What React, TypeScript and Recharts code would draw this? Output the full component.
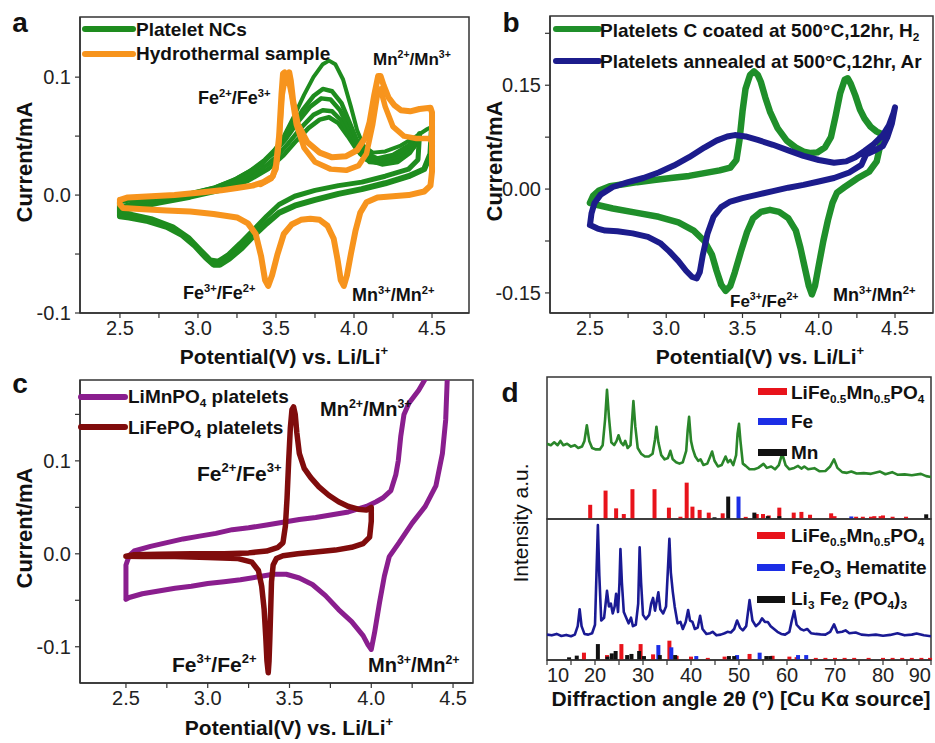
import React from 'react';
import { LineChart, Line, XAxis, YAxis, ReferenceArea, ReferenceLine } from 'recharts';

type Pt = [number, number];
const FONT = "'Liberation Sans', Arial, Helvetica, sans-serif";

// ---------------- Panel a ----------------
const aXTicks = [2.5, 2.75, 3, 3.25, 3.5, 3.75, 4, 4.25, 4.5];
const aYTicks = [-0.1, -0.05, 0, 0.05, 0.1];
const aXDomain: [number, number] = [2.244, 4.737];
const aYDomain: [number, number] = [-0.1, 0.151];

const aGreenAnodic1: Pt[] = [[2.5,-0.006],[2.6,-0.004],[2.75,-0.002],[2.9,0],[3.05,0.003],[3.18,0.008],[3.3,0.015],[3.4,0.025],[3.48,0.036],[3.55,0.05],[3.62,0.068],[3.68,0.085],[3.74,0.1],[3.8,0.111],[3.84,0.114],[3.88,0.111],[3.93,0.098],[3.98,0.075],[4.02,0.055],[4.06,0.042],[4.12,0.036],[4.2,0.037],[4.3,0.042],[4.4,0.05],[4.47,0.056],[4.5,0.058]];
const aGreenAnodic2: Pt[] = [[2.5,-0.01],[2.65,-0.005],[2.8,-0.002],[2.95,0.001],[3.1,0.006],[3.22,0.012],[3.33,0.02],[3.43,0.03],[3.52,0.042],[3.6,0.057],[3.67,0.072],[3.74,0.084],[3.8,0.09],[3.86,0.088],[3.92,0.078],[3.97,0.062],[4.02,0.046],[4.07,0.036],[4.15,0.031],[4.25,0.034],[4.35,0.042],[4.42,0.052]];
const aGreenAnodic3: Pt[] = [[2.5,-0.012],[2.7,-0.005],[2.9,0],[3.1,0.006],[3.25,0.014],[3.38,0.024],[3.48,0.035],[3.56,0.047],[3.64,0.062],[3.72,0.075],[3.79,0.082],[3.85,0.081],[3.91,0.072],[3.97,0.056],[4.03,0.04],[4.09,0.031],[4.18,0.029],[4.28,0.033],[4.38,0.043],[4.42,0.05]];
const aGreenAnodic4: Pt[] = [[2.5,-0.013],[2.7,-0.006],[2.9,-0.001],[3.1,0.004],[3.28,0.012],[3.4,0.021],[3.5,0.032],[3.58,0.044],[3.66,0.057],[3.74,0.068],[3.8,0.072],[3.86,0.071],[3.92,0.063],[3.98,0.049],[4.04,0.035],[4.1,0.028],[4.2,0.027],[4.3,0.031],[4.38,0.04],[4.41,0.046]];
const aGreenAnodic5: Pt[] = [[2.5,-0.014],[2.75,-0.007],[2.95,-0.002],[3.15,0.004],[3.32,0.012],[3.45,0.022],[3.55,0.034],[3.63,0.046],[3.71,0.057],[3.78,0.064],[3.84,0.066],[3.9,0.061],[3.96,0.05],[4.02,0.038],[4.08,0.03],[4.18,0.026],[4.28,0.028],[4.36,0.036],[4.4,0.044]];
const aGreenCathodic1: Pt[] = [[4.5,0.058],[4.49,0.035],[4.45,0.022],[4.35,0.016],[4.2,0.01],[4.05,0.005],[3.9,0.001],[3.75,-0.004],[3.62,-0.009],[3.52,-0.015],[3.44,-0.024],[3.36,-0.034],[3.28,-0.045],[3.2,-0.054],[3.14,-0.059],[3.1,-0.059],[3.05,-0.053],[2.98,-0.043],[2.9,-0.034],[2.8,-0.027],[2.68,-0.022],[2.56,-0.019],[2.5,-0.018],[2.5,-0.006]];
const aGreenCathodic2: Pt[] = [[4.42,0.052],[4.41,0.03],[4.35,0.022],[4.2,0.016],[4.05,0.011],[3.9,0.008],[3.75,0.004],[3.62,-0.001],[3.52,-0.008],[3.44,-0.018],[3.36,-0.029],[3.27,-0.041],[3.19,-0.051],[3.13,-0.056],[3.08,-0.055],[3.02,-0.047],[2.94,-0.036],[2.84,-0.027],[2.7,-0.02],[2.56,-0.016],[2.5,-0.015]];
const aOrangeCycle1: Pt[] = [[2.5,-0.004],[2.55,-0.002],[2.7,-0.001],[2.85,0],[3,0.002],[3.15,0.004],[3.25,0.006],[3.35,0.008],[3.42,0.011],[3.48,0.016],[3.5,0.025],[3.52,0.05],[3.535,0.085],[3.545,0.103],[3.555,0.104],[3.565,0.095],[3.575,0.1],[3.585,0.104],[3.595,0.097],[3.61,0.08],[3.64,0.06],[3.7,0.045],[3.78,0.036],[3.86,0.032],[3.95,0.033],[4.02,0.038],[4.07,0.048],[4.1,0.062],[4.13,0.085],[4.155,0.101],[4.17,0.101],[4.19,0.093],[4.22,0.083],[4.26,0.076],[4.3,0.072],[4.36,0.071],[4.42,0.073],[4.49,0.074],[4.5,0.07],[4.5,0.045],[4.5,0.02],[4.49,0.008],[4.45,0.003],[4.35,0],[4.25,-0.001],[4.15,-0.002],[4.08,-0.006],[4.04,-0.015],[4.01,-0.03],[3.98,-0.05],[3.955,-0.068],[3.935,-0.077],[3.915,-0.072],[3.895,-0.055],[3.87,-0.037],[3.83,-0.026],[3.78,-0.021],[3.72,-0.02],[3.66,-0.021],[3.6,-0.025],[3.55,-0.033],[3.51,-0.05],[3.475,-0.068],[3.45,-0.077],[3.43,-0.072],[3.405,-0.052],[3.37,-0.033],[3.32,-0.024],[3.25,-0.019],[3.1,-0.016],[2.95,-0.014],[2.8,-0.013],[2.65,-0.012],[2.52,-0.011],[2.5,-0.008],[2.5,-0.004]];
const aOrangeCycle2: Pt[] = [[3.4,0.009],[3.47,0.014],[3.5,0.022],[3.52,0.045],[3.54,0.085],[3.56,0.1],[3.58,0.098],[3.6,0.085],[3.63,0.06],[3.68,0.04],[3.75,0.028],[3.85,0.022],[3.95,0.021],[4.03,0.025],[4.08,0.035],[4.12,0.06],[4.15,0.085],[4.17,0.09],[4.2,0.075],[4.25,0.058],[4.32,0.05],[4.4,0.048],[4.48,0.048],[4.5,0.045]];

// ---------------- Panel b ----------------
const bXTicks = [2.5, 2.75, 3, 3.25, 3.5, 3.75, 4, 4.25, 4.5];
const bYTicks = [-0.15, -0.075, 0, 0.075, 0.15, 0.225];
const bXDomain: [number, number] = [2.238, 4.749];
const bYDomain: [number, number] = [-0.179, 0.25];

const bGreen: Pt[] = [[2.5,-0.02],[2.52,-0.01],[2.56,-0.002],[2.63,0.004],[2.72,0.007],[2.81,0.01],[2.92,0.013],[3.03,0.016],[3.15,0.019],[3.25,0.023],[3.35,0.027],[3.42,0.031],[3.46,0.042],[3.48,0.07],[3.5,0.112],[3.52,0.145],[3.55,0.165],[3.575,0.17],[3.6,0.165],[3.62,0.155],[3.65,0.132],[3.68,0.112],[3.73,0.088],[3.79,0.07],[3.85,0.06],[3.9,0.054],[3.95,0.052],[3.99,0.053],[4.04,0.06],[4.08,0.075],[4.11,0.105],[4.14,0.138],[4.17,0.158],[4.19,0.16],[4.21,0.152],[4.24,0.135],[4.27,0.115],[4.3,0.102],[4.34,0.09],[4.38,0.083],[4.41,0.08],[4.4,0.06],[4.38,0.04],[4.33,0.025],[4.25,0.015],[4.17,0.003],[4.12,-0.005],[4.09,-0.02],[4.06,-0.045],[4.03,-0.075],[4,-0.11],[3.975,-0.14],[3.955,-0.152],[3.935,-0.14],[3.91,-0.115],[3.88,-0.085],[3.85,-0.06],[3.8,-0.042],[3.74,-0.033],[3.68,-0.03],[3.62,-0.033],[3.57,-0.042],[3.53,-0.062],[3.49,-0.09],[3.45,-0.12],[3.42,-0.14],[3.39,-0.147],[3.36,-0.138],[3.33,-0.118],[3.3,-0.095],[3.25,-0.075],[3.18,-0.06],[3.08,-0.048],[2.95,-0.04],[2.8,-0.034],[2.65,-0.028],[2.55,-0.023],[2.5,-0.02]];
const bBlue: Pt[] = [[2.5,-0.052],[2.51,-0.035],[2.53,-0.02],[2.57,-0.008],[2.65,0.003],[2.75,0.01],[2.85,0.016],[2.95,0.024],[3.05,0.034],[3.15,0.046],[3.25,0.06],[3.33,0.07],[3.4,0.076],[3.45,0.078],[3.52,0.076],[3.6,0.071],[3.7,0.064],[3.8,0.056],[3.9,0.048],[4,0.042],[4.1,0.038],[4.18,0.04],[4.24,0.046],[4.3,0.055],[4.36,0.065],[4.42,0.078],[4.46,0.092],[4.49,0.11],[4.5,0.118],[4.48,0.095],[4.45,0.075],[4.42,0.062],[4.36,0.055],[4.31,0.05],[4.28,0.035],[4.2,0.024],[4.1,0.016],[4,0.011],[3.9,0.006],[3.8,0.002],[3.7,-0.003],[3.6,-0.008],[3.5,-0.013],[3.42,-0.018],[3.36,-0.026],[3.31,-0.04],[3.27,-0.065],[3.24,-0.095],[3.22,-0.12],[3.2,-0.129],[3.17,-0.127],[3.13,-0.118],[3.08,-0.104],[3.02,-0.09],[2.96,-0.078],[2.88,-0.069],[2.78,-0.064],[2.68,-0.061],[2.6,-0.06],[2.55,-0.057],[2.5,-0.052]];

// ---------------- Panel c ----------------
const cXTicks = [2.5, 2.75, 3, 3.25, 3.5, 3.75, 4, 4.25, 4.5];
const cYTicks = [-0.1, -0.05, 0, 0.05, 0.1, 0.15];
const cXDomain: [number, number] = [2.219, 4.622];
const cYDomain: [number, number] = [-0.139, 0.187];

const cPurple: Pt[] = [[2.5,-0.049],[2.5,-0.03],[2.5,-0.012],[2.52,-0.002],[2.55,0.003],[2.65,0.008],[2.75,0.012],[2.85,0.016],[2.95,0.019],[3.05,0.022],[3.15,0.026],[3.25,0.028],[3.36,0.031],[3.46,0.034],[3.56,0.037],[3.66,0.039],[3.76,0.042],[3.86,0.045],[3.97,0.051],[4.03,0.056],[4.07,0.06],[4.12,0.068],[4.15,0.085],[4.165,0.1],[4.18,0.126],[4.2,0.15],[4.23,0.162],[4.29,0.176],[4.33,0.188],[4.36,0.2],[4.4,0.3],[4.46,0.3],[4.465,0.19],[4.455,0.144],[4.435,0.108],[4.395,0.073],[4.33,0.051],[4.25,0.033],[4.17,0.012],[4.11,-0.003],[4.08,-0.024],[4.05,-0.053],[4.02,-0.085],[4,-0.103],[3.98,-0.098],[3.95,-0.088],[3.88,-0.073],[3.8,-0.06],[3.72,-0.045],[3.64,-0.033],[3.56,-0.026],[3.48,-0.022],[3.4,-0.022],[3.3,-0.025],[3.2,-0.028],[3.1,-0.03],[3,-0.032],[2.9,-0.035],[2.8,-0.037],[2.7,-0.04],[2.6,-0.043],[2.52,-0.047],[2.5,-0.049]];
const cDarkRed: Pt[] = [[2.5,-0.0025],[2.55,-0.001],[2.7,-0.0005],[2.9,0],[3.1,0],[3.25,0.001],[3.36,0.003],[3.43,0.007],[3.46,0.012],[3.475,0.03],[3.485,0.06],[3.495,0.1],[3.505,0.135],[3.515,0.155],[3.525,0.158],[3.535,0.15],[3.545,0.13],[3.56,0.108],[3.59,0.092],[3.63,0.082],[3.68,0.072],[3.74,0.063],[3.8,0.056],[3.86,0.051],[3.92,0.048],[3.97,0.047],[4,0.05],[4,0.035],[3.99,0.018],[3.95,0.011],[3.88,0.007],[3.78,0.004],[3.66,0.002],[3.55,0],[3.46,-0.002],[3.42,-0.005],[3.4,-0.012],[3.39,-0.03],[3.385,-0.06],[3.38,-0.09],[3.375,-0.115],[3.37,-0.128],[3.362,-0.115],[3.355,-0.09],[3.345,-0.06],[3.33,-0.035],[3.31,-0.018],[3.27,-0.009],[3.18,-0.005],[3,-0.004],[2.8,-0.003],[2.6,-0.003],[2.5,-0.0025]];

// ---------------- Panel d ----------------
const dXTicks = [10, 15, 20, 25, 30, 35, 40, 45, 50, 55, 60, 65, 70, 75, 80, 85, 90];
const dXDomain: [number, number] = [10, 90];
const dYDomain: [number, number] = [0, 100];

const dTopPattern: Pt[] = [[10,53],[10.8,52],[11.5,54],[12.2,52],[12.8,55],[13.4,52],[14.2,53],[15,51],[15.8,52],[16.5,50],[17.3,51],[17.8,55],[18.3,66],[18.8,55],[19.4,50],[20.2,49],[21,49],[21.6,52],[22.1,70],[22.5,91],[22.9,72],[23.4,54],[24,52],[24.5,55],[24.9,59],[25.4,54],[25.9,52],[26.3,55],[26.8,50],[27.4,52],[27.7,68],[28,83],[28.4,65],[28.9,50],[29.6,46],[30.4,44],[31.2,44],[32,46],[32.5,56],[32.8,65],[33.2,54],[33.8,45],[34.5,42],[35.2,43],[35.7,48],[36.2,42],[36.9,40],[37.6,39],[38.3,40],[39,48],[39.3,62],[39.6,72],[40,55],[40.4,49],[40.9,44],[41.5,41],[42,42],[42.6,38],[43.4,39],[44,44],[44.4,47.5],[44.9,41],[45.6,37],[46.4,38],[47.2,44],[47.7,40],[48.2,41.6],[48.8,38],[49.4,45],[49.7,60],[50,67],[50.3,55],[50.8,39],[51.4,37.4],[52.2,35],[53.2,35],[54,36],[55.1,38.8],[55.8,36],[56.7,37],[57.5,35],[58.3,38],[59,46],[59.7,38],[60.5,35],[61.5,36],[62.3,37.4],[63,35.5],[63.6,37],[64.4,35],[65.7,35.8],[66.8,33.6],[68,33.8],[69,37],[69.8,42],[70.5,36],[71.5,33],[72.5,32.5],[73.4,33.5],[74.5,32],[76,32.3],[77.5,31.8],[79.4,33.4],[80.5,31.5],[81.9,33],[83,31.2],[84.5,31.4],[86,30.8],[87.9,31.8],[89,30.2],[90,29.6]];
const dTopRedSticks: Pt[] = [[19,10],[22.2,20],[24.4,7.5],[26,3.5],[27.8,21],[32.4,21],[35.4,8],[37.8,1.6],[39.1,25.6],[40.3,8.7],[41.8,6.4],[43.7,4.5],[46.6,4],[51.4,1.5],[53.7,3.5],[55,3.5],[56.2,2.5],[58.4,8],[61.4,4.5],[63,5],[64.8,3],[69.2,4],[69.9,2],[74.4,1.6],[75.8,1.6],[77.5,1.6],[78.2,2],[79.5,2],[80,2.5],[82,1.6],[84.8,1.6]];
const dTopBlueSticks: Pt[] = [[49.9,15.8],[73.4,1.8]];
const dTopBlackSticks: Pt[] = [[44.9,1.2],[47.75,15.8],[53.2,4.5],[56,2],[58.4,2],[89,3.3]];

const dBottomPattern: Pt[] = [[10,18],[11,17.5],[12,18.5],[13,17],[14,17.8],[15,16.8],[15.8,18],[16.4,24],[16.8,36],[17.2,24],[17.8,18.5],[18.6,18],[19.4,19],[20,25],[20.3,60],[20.6,95.7],[20.9,60],[21.3,28],[21.9,30],[22.5,49],[22.9,38],[23.3,40],[23.7,33],[24.1,38],[24.4,47],[24.8,34],[25.1,55],[25.3,78.7],[25.6,55],[26,34],[26.5,30],[27,26],[27.5,30],[27.9,24],[28.5,25],[29,40],[29.3,80],[29.6,55],[30,32],[30.6,29],[31.3,32],[31.7,40],[32.1,44],[32.5,35],[33.2,48],[33.6,36],[34.2,33],[34.8,38],[35.2,65],[35.5,86],[35.8,62],[36.2,48.5],[36.6,38],[37.2,26],[37.8,27],[38.3,22],[38.9,27],[39.4,35.5],[39.8,28],[40.3,27],[40.8,22],[41.4,23],[41.9,31.4],[42.4,22],[43.2,18.5],[44,19],[44.5,20],[45.3,17.5],[46.2,18],[47,19],[47.6,20],[48.3,19.5],[49,22],[49.6,28],[50.2,23],[50.8,21],[51.5,24],[52.2,42.5],[52.8,28],[53.5,24],[54.2,26],[54.8,29.5],[55.4,27],[56,27],[56.6,24],[57.3,22],[58,20],[58.8,18.5],[59.6,18],[60.5,20],[61,28],[61.5,34.8],[62,25],[62.8,22],[63.5,21],[64.2,22],[65,19],[66,18.5],[67,18.2],[68,18],[69,20],[69.8,25.3],[70.5,19.5],[71.5,20],[72.2,21],[73,19],[74.3,19.5],[75.5,18],[77,17.5],[78.5,18],[80,17.2],[81.5,17.8],[83,19],[84.5,17.5],[86,18],[87,18.8],[88.5,17.5],[90,16.8]];
const dBotRedSticks: Pt[] = [[17.7,5.2],[22.5,3.5],[25.5,11.3],[29.5,11.3],[32.1,4],[35.5,13.7],[37,3],[40,2.4],[43.5,1.5],[47,2.4],[52.2,4.3],[57,3],[60.5,2.4],[62,2],[66,1.5],[68,1.5],[70,1.5],[72,1.5],[74,1.5],[77,1.5],[80,1.5],[82,1.5],[84,1.5],[86,1.5],[88,1.5],[89.8,1.5]];
const dBotBlueSticks: Pt[] = [[33.2,10.6],[35.9,9],[41.1,2.8],[49.6,3.5],[54.3,5.2],[62.3,3.5],[64,3.5]];
const dBotBlackSticks: Pt[] = [[14.6,1.9],[16.2,3.1],[20.6,11.3],[22.6,2.4],[23.5,4.7],[24.3,6.4],[26.7,3.5],[27.6,4.3],[29.2,6.4],[30.2,2.8],[33.5,3.5],[36.7,3.5],[47.9,2.8],[49,2.8],[55.7,2.8],[56.5,2.8]];

// ---------------- colors ----------------
const C = {
  green: '#1e8c1e', orange: '#f7941d', greenB: '#1f8f2a', navy: '#1c1c8c',
  purple: '#8a1e8e', darkRed: '#800c0c', xrdGreen: '#2a862a', xrdBlue: '#1a1a94',
  stickRed: '#e8131b', stickBlue: '#1c2ee6', stickBlack: '#111111', axis: '#333333',
};

const toXY = (pts: Pt[]) => pts.map(([x, y]) => ({ x, y }));
const near = (v: number, step: number) => Math.abs(v / step - Math.round(v / step)) < 1e-6;

type Series = { pts: Pt[]; color: string; width: number };

const tickStyle = { fontSize: 20, fill: '#222', fontFamily: FONT };

function CVChart(props: {
  box: [number, number, number, number];
  plot: [number, number, number, number];
  xDomain: [number, number]; yDomain: [number, number];
  xTicks: number[]; yTicks: number[];
  yFmt: (v: number) => string;
  series: Series[];
}) {
  const { box, plot, xDomain, yDomain, xTicks, yTicks, yFmt, series } = props;
  const [L, T, W, H] = box;
  const [pl, pt, pr, pb] = plot;
  const yw = 60, xh = 30;
  const margin = { left: pl - L - yw, top: pt - T, right: L + W - pr, bottom: T + H - pb - xh };
  return (
    <div style={{ position: 'absolute', left: L, top: T }}>
      <LineChart width={W} height={H} margin={margin}>
        <XAxis type="number" dataKey="x" domain={xDomain} allowDataOverflow ticks={xTicks} interval={0}
          tickFormatter={(v: number) => (near(v, 0.5) ? v.toFixed(1) : '')} height={xh} tickSize={5} tickMargin={3}
          tick={tickStyle} axisLine={{ stroke: C.axis, strokeWidth: 1.5 }} tickLine={{ stroke: C.axis, strokeWidth: 1.2 }} />
        <YAxis type="number" domain={yDomain} allowDataOverflow ticks={yTicks} interval={0} tickFormatter={yFmt}
          width={yw} tickSize={5} tickMargin={4} tick={tickStyle}
          axisLine={{ stroke: C.axis, strokeWidth: 1.5 }} tickLine={{ stroke: C.axis, strokeWidth: 1.2 }} />
        <ReferenceArea x1={xDomain[0]} x2={xDomain[1]} y1={yDomain[0]} y2={yDomain[1]} fill="none"
          stroke={C.axis} strokeWidth={1.5} ifOverflow="visible" />
        {series.map((s, i) => (
          <Line key={i} data={toXY(s.pts)} dataKey="y" type="linear" stroke={s.color} strokeWidth={s.width}
            dot={false} activeDot={false} isAnimationActive={false} strokeLinejoin="round" strokeLinecap="round" />
        ))}
      </LineChart>
    </div>
  );
}

const DTick = (p: any) => {
  const v = p.payload?.value as number;
  if (!near(v, 10)) return <g />;
  const anchor = v === 10 ? 'start' : v === 90 ? 'end' : 'middle';
  return (
    <text x={p.x} y={p.y} dy="0.71em" textAnchor={anchor} fontSize={20} fill="#222" fontFamily={FONT}>{v}</text>
  );
};

function XRDChart(props: {
  box: [number, number, number, number];
  margin: { left: number; top: number; right: number; bottom: number };
  showX: boolean;
  pattern: Pt[]; color: string;
  sticks: { pts: Pt[]; color: string }[];
}) {
  const { box, margin, showX, pattern, color, sticks } = props;
  const [L, T, W, H] = box;
  return (
    <div style={{ position: 'absolute', left: L, top: T }}>
      <LineChart width={W} height={H} margin={margin}>
        <XAxis type="number" dataKey="x" domain={dXDomain} allowDataOverflow ticks={dXTicks} interval={0}
          hide={!showX} height={30} tickSize={5} tickMargin={3} tick={<DTick />}
          axisLine={{ stroke: C.axis, strokeWidth: 1.5 }} tickLine={{ stroke: C.axis, strokeWidth: 1.2 }} />
        <YAxis type="number" domain={dYDomain} allowDataOverflow hide />
        <ReferenceArea x1={dXDomain[0]} x2={dXDomain[1]} y1={dYDomain[0]} y2={dYDomain[1]} fill="none"
          stroke={C.axis} strokeWidth={1.5} ifOverflow="visible" />
        {sticks.flatMap((s, si) =>
          s.pts.map(([x, h], i) => (
            <ReferenceLine key={`s${si}-${i}`} segment={[{ x, y: 0 }, { x, y: h }]} stroke={s.color}
              strokeWidth={4} ifOverflow="visible" />
          ))
        )}
        <Line data={toXY(pattern)} dataKey="y" type="linear" stroke={color} strokeWidth={2.6}
          dot={false} activeDot={false} isAnimationActive={false} strokeLinejoin="round" />
      </LineChart>
    </div>
  );
}

const Sup = ({ children }: { children: React.ReactNode }) => (
  <span style={{ fontSize: '0.62em', verticalAlign: '0.62em', lineHeight: 0 }}>{children}</span>
);
const Sub = ({ children }: { children: React.ReactNode }) => (
  <span style={{ fontSize: '0.62em', verticalAlign: '-0.4em', lineHeight: 0 }}>{children}</span>
);

function Txt(props: { x: number; y: number; size: number; weight?: number; align?: 'left' | 'center'; rotate?: boolean; children: React.ReactNode }) {
  const { x, y, size, weight = 700, align = 'left', rotate = false, children } = props;
  const tx = align === 'left' ? '0' : '-50%';
  const transform = rotate ? 'translate(-50%, -50%) rotate(-90deg)' : `translate(${tx}, -50%)`;
  return (
    <div style={{ position: 'absolute', left: x, top: y, transform, fontSize: size, fontWeight: weight,
      fontFamily: FONT, whiteSpace: 'nowrap', lineHeight: 1, color: '#111' }}>{children}</div>
  );
}

function Swatch({ x1, x2, y, h, color, round = true }: { x1: number; x2: number; y: number; h: number; color: string; round?: boolean }) {
  return <div style={{ position: 'absolute', left: x1, top: y - h / 2, width: x2 - x1, height: h, background: color, borderRadius: round ? h / 2 : 0 }} />;
}

export default function App() {
  const fmt1 = (v: number) => (near(v, 0.1) ? v.toFixed(1) : '');
  const fmt2 = (v: number) => (near(v, 0.15) ? v.toFixed(2) : '');
  return (
    <div style={{ position: 'absolute', left: 0, top: 0, width: 935, height: 743, background: '#fff', overflow: 'hidden', fontFamily: FONT }}>
      {/* Panel a */}
      <CVChart box={[0, 0, 480, 350]} plot={[80, 17, 469, 313]} xDomain={aXDomain} yDomain={aYDomain}
        xTicks={aXTicks} yTicks={aYTicks} yFmt={fmt1}
        series={[
          { pts: aGreenAnodic5, color: C.green, width: 4.5 },
          { pts: aGreenAnodic4, color: C.green, width: 4.5 },
          { pts: aGreenAnodic3, color: C.green, width: 4.5 },
          { pts: aGreenAnodic2, color: C.green, width: 4.5 },
          { pts: aGreenAnodic1, color: C.green, width: 4 },
          { pts: aGreenCathodic2, color: C.green, width: 5 },
          { pts: aGreenCathodic1, color: C.green, width: 6 },
          { pts: aOrangeCycle2, color: C.orange, width: 5.5 },
          { pts: aOrangeCycle1, color: C.orange, width: 6 },
        ]} />
      {/* Panel b */}
      <CVChart box={[470, 0, 465, 350]} plot={[550, 16, 933, 313]} xDomain={bXDomain} yDomain={bYDomain}
        xTicks={bXTicks} yTicks={bYTicks} yFmt={fmt2}
        series={[
          { pts: bGreen, color: C.greenB, width: 6.5 },
          { pts: bBlue, color: C.navy, width: 6 },
        ]} />
      {/* Panel c */}
      <CVChart box={[0, 370, 480, 350]} plot={[80, 380, 473, 683]} xDomain={cXDomain} yDomain={cYDomain}
        xTicks={cXTicks} yTicks={cYTicks} yFmt={fmt1}
        series={[
          { pts: cPurple, color: C.purple, width: 5 },
          { pts: cDarkRed, color: C.darkRed, width: 5.5 },
        ]} />
      {/* Panel d */}
      <XRDChart box={[470, 370, 465, 150]} margin={{ left: 77, top: 7, right: 4, bottom: 1 }} showX={false}
        pattern={dTopPattern} color={C.xrdGreen}
        sticks={[{ pts: dTopRedSticks, color: C.stickRed }, { pts: dTopBlueSticks, color: C.stickBlue }, { pts: dTopBlackSticks, color: C.stickBlack }]} />
      <XRDChart box={[470, 518, 465, 181]} margin={{ left: 77, top: 1, right: 4, bottom: 9 }} showX={true}
        pattern={dBottomPattern} color={C.xrdBlue}
        sticks={[{ pts: dBotRedSticks, color: C.stickRed }, { pts: dBotBlueSticks, color: C.stickBlue }, { pts: dBotBlackSticks, color: C.stickBlack }]} />

      {/* panel letters */}
      <Txt x={20} y={23} size={28} align="center">a</Txt>
      <Txt x={511} y={23} size={28} align="center">b</Txt>
      <Txt x={20} y={384} size={28} align="center">c</Txt>
      <Txt x={510} y={393} size={28} align="center">d</Txt>

      {/* axis titles */}
      <Txt x={25} y={162} size={22} rotate>Current/mA</Txt>
      <Txt x={495} y={161} size={22} rotate>Current/mA</Txt>
      <Txt x={25} y={528} size={22} rotate>Current/mA</Txt>
      <Txt x={520} y={523} size={21} weight={400} rotate>Intensity a.u.</Txt>
      <Txt x={284} y={356} size={21} align="center">Potential(V) vs. Li/Li<Sup>+</Sup></Txt>
      <Txt x={760} y={356} size={21} align="center">Potential(V) vs. Li/Li<Sup>+</Sup></Txt>
      <Txt x={289} y={727} size={21} align="center">Potential(V) vs. Li/Li<Sup>+</Sup></Txt>
      <Txt x={741} y={698} size={21} align="center">Diffraction angle 2θ (°) [Cu Kα source]</Txt>

      {/* legends a */}
      <Swatch x1={82} x2={136} y={29} h={6} color={C.green} />
      <Txt x={136} y={29} size={19}>Platelet NCs</Txt>
      <Swatch x1={82} x2={136} y={54} h={6} color={C.orange} />
      <Txt x={136} y={53} size={19}>Hydrothermal sample</Txt>
      {/* legends b */}
      <Swatch x1={553} x2={602} y={29} h={6} color={C.greenB} />
      <Txt x={600} y={30} size={19}>Platelets C coated at 500°C,12hr, H<Sub>2</Sub></Txt>
      <Swatch x1={553} x2={602} y={61} h={6} color={C.navy} />
      <Txt x={600} y={61} size={19}>Platelets annealed at 500°C,12hr, Ar</Txt>
      {/* legends c */}
      <Swatch x1={78} x2={128} y={397} h={6} color={C.purple} />
      <Txt x={128} y={396} size={19}>LiMnPO<Sub>4</Sub> platelets</Txt>
      <Swatch x1={78} x2={128} y={427} h={6} color={C.darkRed} />
      <Txt x={128} y={427} size={19}>LiFePO<Sub>4</Sub> platelets</Txt>
      {/* legends d */}
      <Swatch x1={758} x2={787} y={391} h={7} color={C.stickRed} round={false} />
      <Txt x={791} y={392} size={19}>LiFe<Sub>0.5</Sub>Mn<Sub>0.5</Sub>PO<Sub>4</Sub></Txt>
      <Swatch x1={758} x2={787} y={421} h={7} color={C.stickBlue} round={false} />
      <Txt x={791} y={421} size={19}>Fe</Txt>
      <Swatch x1={758} x2={787} y={452} h={7} color={C.stickBlack} round={false} />
      <Txt x={791} y={452} size={19}>Mn</Txt>
      <Swatch x1={757} x2={785} y={535} h={7} color={C.stickRed} round={false} />
      <Txt x={791} y={535} size={19}>LiFe<Sub>0.5</Sub>Mn<Sub>0.5</Sub>PO<Sub>4</Sub></Txt>
      <Swatch x1={757} x2={785} y={567} h={7} color={C.stickBlue} round={false} />
      <Txt x={791} y={567} size={19}>Fe<Sub>2</Sub>O<Sub>3</Sub> Hematite</Txt>
      <Swatch x1={757} x2={785} y={599} h={7} color={C.stickBlack} round={false} />
      <Txt x={791} y={598} size={19}>Li<Sub>3</Sub> Fe<Sub>2</Sub> (PO<Sub>4</Sub>)<Sub>3</Sub></Txt>

      {/* annotations a */}
      <Txt x={198} y={98} size={18}>Fe<Sup>2+</Sup>/Fe<Sup>3+</Sup></Txt>
      <Txt x={373} y={59} size={17}>Mn<Sup>2+</Sup>/Mn<Sup>3+</Sup></Txt>
      <Txt x={183} y={293} size={18}>Fe<Sup>3+</Sup>/Fe<Sup>2+</Sup></Txt>
      <Txt x={352} y={295} size={18}>Mn<Sup>3+</Sup>/Mn<Sup>2+</Sup></Txt>
      {/* annotations b */}
      <Txt x={730} y={301} size={17}>Fe<Sup>3+</Sup>/Fe<Sup>2+</Sup></Txt>
      <Txt x={833} y={295} size={18}>Mn<Sup>3+</Sup>/Mn<Sup>2+</Sup></Txt>
      {/* annotations c */}
      <Txt x={320} y={409} size={20}>Mn<Sup>2+</Sup>/Mn<Sup>3+</Sup></Txt>
      <Txt x={197} y={473} size={21}>Fe<Sup>2+</Sup>/Fe<Sup>3+</Sup></Txt>
      <Txt x={172} y={664} size={21}>Fe<Sup>3+</Sup>/Fe<Sup>2+</Sup></Txt>
      <Txt x={368} y={665} size={20}>Mn<Sup>3+</Sup>/Mn<Sup>2+</Sup></Txt>
    </div>
  );
}
